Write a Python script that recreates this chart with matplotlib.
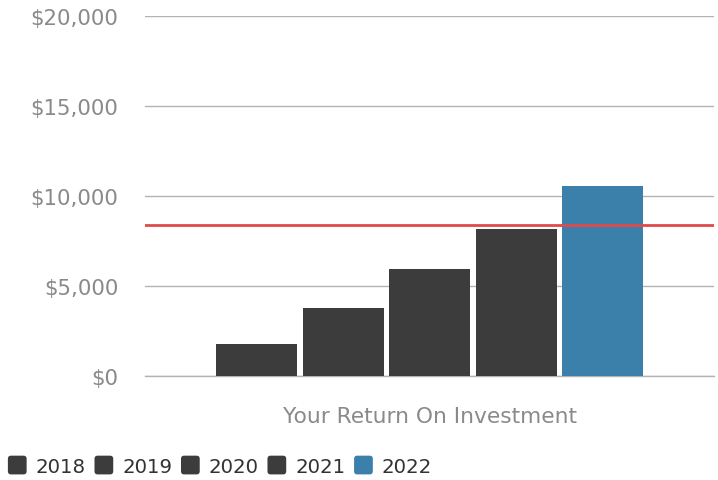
import matplotlib
matplotlib.use("Agg")
import matplotlib.pyplot as plt
from matplotlib.patches import FancyBboxPatch, Patch
from matplotlib.legend_handler import HandlerPatch
from matplotlib.ticker import FuncFormatter

plt.rcParams["font.family"] = ["DejaVu Sans"]

years = ["2018", "2019", "2020", "2021", "2022"]
values = [1800, 3800, 5970, 8180, 10570]
colors = ["#3c3c3c", "#3c3c3c", "#3c3c3c", "#3c3c3c", "#3b80ab"]
category = ["Your Return On Investment"]
target = 8370
yticks = [0, 5000, 10000, 15000, 20000]

W, H = 718, 481
fig = plt.figure(figsize=(W / 100, H / 100), dpi=100)
ax = fig.add_axes([145 / W, 1 - 377 / H, (714 - 145) / W, (377 - 17) / H])

step = 86.5 / 569
width = 81 / 569
for i, (y, v, c) in enumerate(zip(years, values, colors)):
    ax.bar((i - 2) * step, v, width=width, color=c, label=y, zorder=3)

ax.axhline(target, color="#e04a4a", lw=2, zorder=4)
ax.axhline(0, color="#b3b3b3", lw=1, zorder=2, clip_on=False)
ax.set_xlim(-0.5, 0.5)
ax.set_ylim(0, 20000)
ax.set_yticks(yticks)
ax.yaxis.set_major_formatter(FuncFormatter(lambda v, p: f"${int(v):,}"))
ax.grid(axis="y", color="#b3b3b3", lw=1, zorder=0)
for s in ax.spines.values():
    s.set_visible(False)
ax.set_xticks([0])
ax.set_xticklabels(category)
ax.tick_params(axis="y", length=0, pad=19, labelsize=15.3, labelcolor="#8a8a8a")
ax.tick_params(axis="x", length=0, pad=21.5, labelsize=15.7, labelcolor="#8a8a8a")


class RoundHandler(HandlerPatch):
    def create_artists(self, legend, orig_handle, xdescent, ydescent, width, height, fontsize, trans):
        s = 13.5
        p = FancyBboxPatch((-xdescent + (width - s) / 2, -ydescent + (height - s) / 2),
                           s, s, boxstyle="round,pad=0,rounding_size=2.3",
                           facecolor=orig_handle.get_facecolor(), edgecolor="none", transform=trans)
        return [p]


handles = [Patch(facecolor=c) for c in colors]
leg = fig.legend(handles, years, loc="center left", bbox_to_anchor=(0 / W, 1 - 467 / H), ncol=5,
                 frameon=False, fontsize=14.2, handlelength=0.95, handleheight=1.0,
                 handletextpad=0.45, columnspacing=0.45, borderaxespad=0.0, borderpad=0.4,
                 handler_map={Patch: RoundHandler()})
for t in leg.get_texts():
    t.set_color("#333333")

fig.savefig("out.png", dpi=100)
